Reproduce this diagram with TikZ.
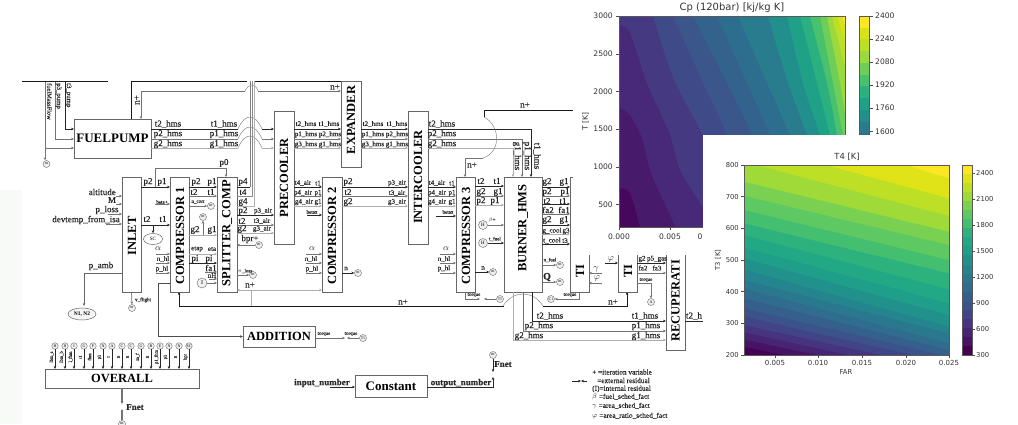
\documentclass[tikz,border=0pt]{standalone}
\usepackage{fontspec}
\usepackage{graphicx}
\setmainfont{Liberation Serif}
\newfontfamily\plotfont{DejaVu Sans}
\newfontfamily\lbf[FakeBold=0.35]{Liberation Serif}
\usetikzlibrary{arrows.meta,shapes.geometric}
\definecolor{c0}{HTML}{45085C}\definecolor{c1}{HTML}{471A6B}\definecolor{c2}{HTML}{482878}
\definecolor{c3}{HTML}{453A82}\definecolor{c4}{HTML}{3F4A89}\definecolor{c5}{HTML}{3A568B}
\definecolor{c6}{HTML}{33638D}\definecolor{c7}{HTML}{2D6E8E}\definecolor{c8}{HTML}{287C8E}
\definecolor{c9}{HTML}{21908D}\definecolor{c10}{HTML}{1FA188}\definecolor{c11}{HTML}{2BB07F}
\definecolor{c12}{HTML}{4AC16D}\definecolor{c13}{HTML}{6ECE58}\definecolor{c14}{HTML}{9BD93C}
\definecolor{c15}{HTML}{BDDF26}\definecolor{c16}{HTML}{D8E219}\definecolor{c17}{HTML}{FDE725}
\definecolor{v0}{HTML}{440154}\definecolor{v1}{HTML}{471365}\definecolor{v2}{HTML}{482475}
\definecolor{v3}{HTML}{463480}\definecolor{v4}{HTML}{414487}\definecolor{v5}{HTML}{3B528B}
\definecolor{v6}{HTML}{355F8D}\definecolor{v7}{HTML}{2F6C8E}\definecolor{v8}{HTML}{2A788E}
\definecolor{v9}{HTML}{25858E}\definecolor{v10}{HTML}{21918C}\definecolor{v11}{HTML}{1F9E89}
\definecolor{v12}{HTML}{22A884}\definecolor{v13}{HTML}{2DB27D}\definecolor{v14}{HTML}{44BF70}
\definecolor{v15}{HTML}{5EC962}\definecolor{v16}{HTML}{7AD151}\definecolor{v17}{HTML}{A0DA39}
\definecolor{v18}{HTML}{BDDF26}\definecolor{v19}{HTML}{DFE318}\definecolor{v20}{HTML}{FDE725}
\tikzset{
  >={Stealth[length=3pt,width=2.6pt]},
  bxs/.style={draw=black!60,line width=.8pt,fill=white,inner sep=0pt,outer sep=0pt,font=\bfseries\fontsize{12.5}{13}\selectfont},
  vls/.style={rotate=90,inner sep=0pt,font=\bfseries\fontsize{12.5}{13}\selectfont},
  lbs/.style={inner sep=0pt,text=black!85,font=\fontsize{9}{9}\selectfont,execute at begin node=\lbf},
  sm/.style={font=\fontsize{7}{7}\selectfont},
  ti/.style={font=\fontsize{5}{5}\selectfont},
  tw/.style={draw=black!85,line width=.7pt,->},
  pw/.style={draw=black!55,line width=.7pt,->},
  gw/.style={draw=black!32,line width=.8pt,->},
  arcs/.style={draw=black!50,line width=.45pt},
  ccs/.style={circle,draw=black!60,line width=.4pt,fill=black!6,inner sep=0pt,minimum size=7pt,font=\fontsize{4}{4}\selectfont},
  pl/.style={inner sep=0pt,text=black!80,font=\plotfont\fontsize{7.6}{8}\selectfont},
  tick/.style={draw=black!70,line width=.5pt}
}
\newcounter{nm}
\newcommand\lb[4][]{\stepcounter{nm}\node[lbs,#1] (t\thenm) at (#2,#3) {#4};}
\newcommand\vl[4][]{\stepcounter{nm}\node[vls,#1] (v\thenm) at (#2,#3) {#4};}
\newcommand\pt[4][]{\stepcounter{nm}\node[pl,#1] (p\thenm) at (#2,#3) {#4};}
\newcommand\cc[5][]{\node[ccs,#1] (#2) at (#3,#4) {#5};}
\newcommand\bx[7][]{\pgfmathsetmacro\wdt{#5-#3}\pgfmathsetmacro\hgt{#6-#4}%
  \node[bxs,minimum width=\wdt pt,minimum height=\hgt pt,#1] (#2) at ({(#3+#5)/2},{(#4+#6)/2}) {#7};}
\newcommand\hw[4][tw]{\draw[#1] (#2.east |- 0,#4) -- (#3.west |- 0,#4);}
\begin{document}
\begin{tikzpicture}[x=1pt,y=-1pt]
\useasboundingbox (0,0) rectangle (1018,424);
\fill[white] (0,0) rectangle (1018,424);
\fill[green!30!black!3] (0,190) rectangle (22,424);
% ---------- boxes
\bx{fuelpump}{74}{119}{151}{158}{\fontsize{13}{13}\selectfont FUELPUMP}
\bx{inlet}{122}{177}{141}{292}{}
\bx{compa}{170}{177}{189}{292}{}
\bx{splitter}{217}{177}{237}{292}{}
\bx{precooler}{274}{111}{294}{244}{}
\bx{expander}{341}{81}{361}{167}{}
\bx{compb}{322}{177}{342}{292}{}
\bx{intercooler}{408}{111}{428}{244}{}
\bx{compc}{456}{177}{475}{292}{}
\bx{burner}{504}{177}{542}{292}{}
\bx{turba}{570}{177}{589}{292}{}
\bx{turbb}{618}{200}{637}{292}{}
\bx{recup}{666}{200}{685}{350}{}
\bx{addition}{243}{326}{315}{347}{ADDITION}
\bx{constant}{355}{375}{427}{397}{\fontsize{13}{13}\selectfont Constant}
\bx{overall}{45}{369}{199}{388}{OVERALL}
\vl{132}{236}{INLET}
\vl{180}{236}{COMPRESSOR 1}
\vl{227}{233}{SPLITTER\_COMP}
\vl{284}{178}{PRECOOLER}
\vl{351}{120}{EXPANDER}
\vl{332}{236}{COMPRESSOR 2}
\vl{418}{177}{INTERCOOLER}
\vl{466}{236}{COMPRESSOR 3}
\vl{523}{228}{BURNER\_HMS}
\vl[anchor=west]{580}{278}{TI}
\vl[anchor=west]{628}{278}{TI}
\vl[anchor=west]{675.5}{342}{RECUPERATI}
% ---------- fuel pump
\coordinate (fa) at (65,81);\coordinate (fb) at (55,81);\coordinate (fc) at (45,81);
\draw[tw] (fa) |- (fuelpump.west |- 0,129);
\draw[pw] (fb) |- (fuelpump.west |- 0,139);
\draw[pw] (fc) |- (fuelpump.west |- 0,148);
\cc{fres}{46.5}{164}{m}
\draw[pw] (45,148) -- (fres.north -| 45,0);
\lb[rotate=-90,anchor=west,font=\fontsize{6.4}{7}\selectfont]{49.5}{83}{fuelMassFlow}
\lb[rotate=-90,anchor=west,font=\fontsize{6.8}{7}\selectfont]{58.5}{83}{p3\_pump}
\lb[rotate=-90,anchor=west,font=\fontsize{6.8}{7}\selectfont]{68.5}{83}{t3\_pump}
\draw[line width=.8pt,draw=black!90] (22,81) -- (108,81);
\draw[line width=.8pt,draw=black!90] (fuelpump.north -| 131,0) -- (131,81) -- (247,81);
\draw[line width=.8pt,draw=black!90] (255,81) -- (expander.north west);
\lb[rotate=90]{137}{100}{n+}
\draw[pw] (245,91) -- (141,91) -- (fuelpump.north -| 141,0);
\draw[arcs] (245,91) .. controls (248,84) and (255,82) .. (258,91);
\draw[pw] (258,91) -- (expander.west |- 0,91);
\lb{335}{87}{n+}
% ---------- fuelpump to precooler
\draw[tw,-] (fuelpump.east |- 0,129) -- (238,129);
\draw[pw,-] (fuelpump.east |- 0,139) -- (238,139);
\draw[gw,-] (fuelpump.east |- 0,148) -- (238,148);
\draw[arcs] (238,129) .. controls (245,113) and (255,113) .. (262,129);
\draw[arcs] (238,139) .. controls (245,123) and (255,123) .. (262,139);
\draw[arcs] (238,148) .. controls (245,132) and (255,132) .. (262,148);
\draw[tw] (262,129) -- (precooler.west |- 0,129);
\draw[pw] (262,139) -- (precooler.west |- 0,139);
\draw[gw] (262,148) -- (precooler.west |- 0,148);
\lb{168}{124}{t2\_hms}\lb{224}{124}{t1\_hms}
\lb{168}{134}{p2\_hms}\lb{224}{134}{p1\_hms}
\lb{168}{144}{g2\_hms}\lb{224}{144}{g1\_hms}
% ---------- splitter verticals
\draw[tw,-] (splitter.east |- 0,187) -- (250,187);
\draw[draw=black!50,line width=.8pt] (250,187) -- (250,81);
\draw[draw=black!45,line width=.8pt] (splitter.east |- 0,196) -- (252,196) -- (252,81);
\draw[draw=black!30,line width=.9pt] (splitter.east |- 0,206) -- (254,206) -- (254,81);
\lb{243}{182}{p4}\lb{243}{192}{t4}\lb{243}{202}{g4}
% ---------- precooler / expander / intercooler
\hw[tw]{precooler}{expander}{129}\hw[pw]{precooler}{expander}{139}\hw[gw]{precooler}{expander}{148}
\hw[tw]{expander}{intercooler}{129}\hw[pw]{expander}{intercooler}{139}\hw[gw]{expander}{intercooler}{148}
\lb[sm]{306}{124}{t2\_hms}\lb[sm]{329}{124}{t1\_hms}
\lb[sm]{306}{134.5}{p1\_hms}\lb[sm]{330}{134.5}{p2\_hms}
\lb[sm]{306}{144.5}{g3\_hms}\lb[sm]{330}{144.5}{g1\_hms}
\lb[sm]{373}{124}{t2\_hms}\lb[sm]{397}{124}{t1\_hms}
\lb[sm]{373}{134.5}{p1\_hms}\lb[sm]{397}{134.5}{p2\_hms}
\lb[sm]{373}{144.5}{g3\_hms}\lb[sm]{397}{144.5}{g1\_hms}
\draw[tw] (intercooler.east |- 0,129) -| (burner.north -| 531,0);
\draw[pw] (intercooler.east |- 0,139) -| (burner.north -| 522,0);
\draw[gw] (intercooler.east |- 0,148) -| (burner.north -| 513,0);
\lb{442}{124}{t2\_hms}\lb{442}{134}{p2\_hms}\lb{442}{144}{g2\_hms}
\lb[rotate=-90]{517}{156}{g1\_hms}\lb[rotate=-90]{527}{156}{p1\_hms}\lb[rotate=-90]{537}{156}{t1\_hms}
\coordinate (nend) at (573,110);
\draw[line width=.8pt,draw=black!90] (nend) -- (484,110) -- (484,117);
\draw[arcs] (484,117) .. controls (500,125) and (502,152) .. (483,158);
\draw[pw] (483,158) -- (465,158) -- (compc.north -| 465,0);
\lb{525}{105}{n+}\lb{472}{165}{n+}
% ---------- inlet
\foreach \yy/\sx in {196/116,204/116,214/108,224/106}{\draw[pw] (\sx,\yy) -- (inlet.west |- 0,\yy);}
\lb[anchor=east]{116}{192}{altitude}\lb{112}{200}{M}\lb{107}{210}{p\_loss}\lb[anchor=east]{120}{220}{devtemp\_from\_isa}
\hw[tw]{inlet}{compa}{187}
\lb{148}{182}{p2}\lb{162}{182}{p1}
\draw[pw] (155,187) -- (155,168) -| (splitter.north -| 226,0);
\lb{224}{163}{p0}
\hw[tw]{inlet}{compa}{225}
\lb{147}{219}{t2}\lb{163}{219}{t1}
\node[ellipse,draw=black!60,line width=.5pt,fill=white,inner sep=0pt,minimum width=19pt,minimum height=11pt,font=\fontsize{5}{5}\selectfont] (sc) at (153,239) {SC};
\draw[tw] (153,225) -- (sc.north);
\draw[pw] (155,204) -- (compa.west |- 0,204);\lb[ti]{162}{202}{beta+}
\draw[pw] (156,254) -- (compa.west |- 0,254);\lb{158}{249}{$\alpha$}
\draw[pw] (156,263) -- (compa.west |- 0,263);\lb[sm]{163}{259}{n\_hl}
\draw[pw] (156,273) -- (compa.west |- 0,273);\lb[sm]{162}{269}{p\_hl}
\coordinate (amb) at (84,273);
\draw[tw,draw=black!60] (inlet.west |- 0,273) -- (amb) -- (84,306);
\lb{101}{266}{p\_amb}
\node[ellipse,draw=black!60,line width=.5pt,fill=black!4,inner sep=0pt,minimum width=28pt,minimum height=12pt,font=\bfseries\fontsize{5.5}{6}\selectfont] (nn) at (82,314) {N1, N2};
\cc{vf}{132}{308}{m}
\draw[pw] (inlet.south) -- (vf.north);
\lb[ti]{143}{300}{v\_flight}
% ---------- compressor 1 to splitter
\hw[tw]{compa}{splitter}{187}\hw[pw]{compa}{splitter}{196}
\lb{196}{182}{p2}\lb{212}{182}{p1}\lb{194}{192}{t2}\lb{211}{192}{t1}
\cc{ncor}{211}{206}{m}\draw[pw] (compa.east |- 0,206) -- (ncor.west);\lb[ti]{198}{202}{n\_corr}
\cc{gcirc}{203}{217}{m}\draw[pw] (203,235) -- (gcirc.south);
\hw[gw]{compa}{splitter}{235}\lb{195}{230}{g2}\lb{212}{230}{g1}
\hw[gw]{compa}{splitter}{254}\lb[sm]{197}{249}{etap}\lb[sm]{212}{249}{eta}
\hw[tw]{compa}{splitter}{263}\lb{195}{259}{pi}\lb{209}{259}{pi}
\draw[pw] (205,272) -- (splitter.west |- 0,272);\lb{211}{268}{fa1}
\draw[pw] (209,279) -- (splitter.west |- 0,279);\lb[sm]{212}{275.5}{nH}
\cc[minimum size=10pt,font=\fontsize{6}{6}\selectfont]{ione}{202}{283}{I}
\draw[pw] (ione.east) -- (splitter.west |- 0,283);
% ---------- splitter to precooler
\hw[tw]{splitter}{precooler}{215}\hw[pw]{splitter}{precooler}{225}\hw[gw]{splitter}{precooler}{233}
\lb{243}{211}{p2}\lb[sm]{263}{211}{p3\_air}\lb{242}{221}{t2}\lb[sm]{262}{221}{t3\_air}\lb{242}{229}{g2}\lb[sm]{262}{229}{g3\_air}
\cc{bpr}{259}{245}{m}\draw[pw] (bpr.west) -- (splitter.east |- bpr);\lb{250}{239}{bpr+}
\cc{piloss}{253}{275}{m}\draw[pw] (splitter.east |- piloss) -- (piloss.west);\lb[ti]{245}{271}{$\pi$\_loss}
\lb{250}{285}{n+}
\draw[gw,<->] (splitter.east |- 0,290) -- (compb.west |- 0,290);
% ---------- n+ bottom
\draw[gw,-] (251,290) -- (251,306);
\draw[line width=.8pt,draw=black!90,->] (burner.south west |- 0,306) -- (179,306) -- (compa.south -| 179,0);
\draw[arcs] (503,306) .. controls (513,290) and (533,290) .. (543,306);
\draw[line width=.8pt,draw=black!90,->] (543,306) -- (627,306) -- (turbb.south -| 627,0);
\lb{403}{302}{n+}\lb{613}{302}{n+}
% ---------- addition
\draw[tw,draw=black!70] (compa.west |- 0,283) -- (158,283) |- (addition.west);
\cc{tone}{363}{338}{T1}
\draw[pw] (addition.east |- tone) -- (345,338);
\draw[pw] (tone.west) -- (347,338);
\lb[ti]{324}{334}{torque}\lb[ti]{351}{334}{torque}
% ---------- compressor 2
\hw[tw]{precooler}{compb}{187}\hw[pw]{precooler}{compb}{196}\hw[gw]{precooler}{compb}{206}
\lb[sm]{303}{183}{t4\_air}\lb[sm]{318}{183}{t1}\lb[sm]{303}{193}{p4\_air}\lb[sm]{318}{193}{p1}\lb[sm]{304}{202}{g4\_air}\lb[sm]{318}{202}{g1}
\draw[tw] (307,215) -- (compb.west |- 0,215);\lb[ti]{312}{212}{betax}
\draw[pw] (306,254) -- (compb.west |- 0,254);\lb{312}{249}{$\alpha$}
\draw[pw] (306,263) -- (compb.west |- 0,263);\lb[sm]{311}{259}{n\_hl}
\draw[pw] (306,273) -- (compb.west |- 0,273);\lb[sm]{312}{269}{p\_hl}
\cc{nb}{358}{273}{m}\draw[tw] (compb.east |- nb) -- (nb.west);\lb[sm]{346}{268.5}{n}
\hw[tw]{compb}{intercooler}{187}\hw[pw]{compb}{intercooler}{196}\hw[gw]{compb}{intercooler}{206}
\lb{348}{182}{p2}\lb{348}{192}{t2}\lb{348}{202}{g2}
\lb[sm]{397}{183}{p3\_air}\lb[sm]{397}{193}{t3\_air}\lb[sm]{397}{202}{g3\_air}
% ---------- compressor 3
\hw[tw]{intercooler}{compc}{187}\hw[pw]{intercooler}{compc}{196}\hw[gw]{intercooler}{compc}{206}
\lb[sm]{437}{183}{t4\_air}\lb[sm]{452}{183}{t1}\lb[sm]{437}{193}{p4\_air}\lb[sm]{452}{193}{p1}\lb[sm]{437}{202}{g4\_air}\lb[sm]{452}{202}{g1}
\draw[tw] (436,216) -- (compc.west |- 0,216);\lb[ti]{448}{212}{betax}
\draw[pw] (440,254) -- (compc.west |- 0,254);\lb{446}{249}{$\alpha$}
\draw[pw] (440,263) -- (compc.west |- 0,263);\lb[sm]{444}{259}{n\_hl}
\draw[pw] (440,273) -- (compc.west |- 0,273);\lb[sm]{444}{268.5}{p\_hl}
\cc{nc}{493}{272}{m}\draw[tw] (compc.east |- nc) -- (nc.west);\lb[sm]{483}{268}{n}
\hw[tw]{compc}{burner}{186}\hw[pw]{compc}{burner}{196}\hw[gw]{compc}{burner}{205}
\lb{481}{181}{t2}\lb{497}{181}{t1}\lb{481}{192}{g2}\lb{498}{192}{g1}\lb{481}{201}{p2}\lb{495}{201}{p1}
\cc[minimum size=9pt,font=\fontsize{5}{5}\selectfont]{hb}{483}{225}{H}\draw[pw] (hb.east) -- (burner.west |- hb);\lb[ti]{492}{220}{$\beta$+}
\cc[minimum size=9pt,font=\fontsize{5}{5}\selectfont]{hc}{483}{243}{H}\draw[tw] (hc.east) -- (burner.west |- hc);\lb[ti]{495}{239}{t\_fuel}
\cc{tonec}{500}{299}{T1}
\draw[pw] (compc.south -| 465,0) -- (465,299) -- (480,299);
\draw[pw] (tonec.west) -- (484,299);
\lb[ti]{474}{295}{torque}
% ---------- burner bottom
\draw[tw] (burner.south -| 532,0) |- (recup.west |- 0,321);
\draw[pw] (burner.south -| 523,0) |- (recup.west |- 0,331);
\draw[gw] (burner.south -| 513,0) |- (recup.west |- 0,340);
\lb{550}{316}{t2\_hms}\lb{645}{316}{t1\_hms}\lb{539}{326}{p2\_hms}\lb{646}{326}{p1\_hms}\lb{529}{336}{g2\_hms}\lb{646}{336}{g1\_hms}
\coordinate (rcut) at (703,321);
\draw[tw,-] (recup.east |- rcut) -- (rcut);
\lb{694}{316}{t2\_h}
% ---------- burner right
\hw[tw]{burner}{turba}{187}\hw[pw]{burner}{turba}{196}\hw[tw]{burner}{turba}{204}\hw[pw]{burner}{turba}{214}\hw[tw]{burner}{turba}{225}\hw[gw]{burner}{turba}{234}\hw[tw]{burner}{turba}{244}
\lb{547}{182}{g2}\lb{564}{182}{g1}\lb{547}{192}{p2}\lb{565}{192}{p1}\lb{547}{201}{t2}\lb{563}{201}{t1}
\lb{548}{210}{fa2}\lb{564}{210}{fa1}\lb{547}{220}{g2}\lb{564}{220}{g1}
\lb[sm]{552}{231}{g\_cool}\lb[sm]{566}{231}{g3}\lb[sm]{552}{240.5}{t\_cool}\lb[sm]{565}{240.5}{t3}
\cc{nf}{560}{265}{m}\draw[pw] (burner.east |- nf) -- (nf.west);\lb[ti]{550}{260}{n\_fuel}
\cc{qq}{560}{282}{m}\draw[pw] (burner.east |- qq) -- (qq.west);\lb[font=\bfseries\fontsize{10}{10}\selectfont]{547}{277}{Q}
\draw[pw] (602,273) -- (turba.east |- 0,273);\lb{596}{269}{$\gamma$}
\draw[pw] (602,283) -- (turba.east |- 0,283);\lb{597}{278}{$\varphi$}
\draw[tw] (605,263) -- (turbb.west |- 0,263);\lb{611}{259}{$\varphi$}
\cc{cone}{551}{299}{C1}
\draw[pw] (turba.south -| 579,0) -- (579,299) -- (cone.east);
\lb[ti]{570}{295}{torque}
\hw[tw]{turbb}{recup}{263}\hw[pw]{turbb}{recup}{273}
\lb[sm]{642}{259}{g2}\lb[sm]{657}{259}{p5\_gas}\lb[sm]{643}{268}{fa2}\lb[sm]{657}{268}{fa3}
\cc{aa}{651}{302}{A}
\draw[pw] (turbb.east |- 0,283) -- (651,283) -- (aa.north);
\lb[ti]{646}{280}{torque}
% ---------- overall
\foreach \xx/\cl/\tx [count=\i] in {55/H/lbm\_s,65/H/lbm\_b,74/I/l\_fhm,84/G/t1,93/P/fhm,103/N/p1,112/A/t,122/C/n,131/C/n,141/G/m\_f,151/B/n,160/E/p1\_fhm,169/N/p1,179/N/n,189/SC/bpr}{
  \cc[minimum size=6.5pt]{ov\i}{\xx}{346}{\cl}
  \draw[tw,line width=.6pt] (ov\i.south) -- (overall.north -| \xx,0);
  \stepcounter{nm}\node[lbs,rotate=90,font=\fontsize{4.5}{5}\selectfont] (ol\i) at (\xx-3.5,357) {\tx};
}
\cc{ovo}{122}{424}{m}
\draw[draw=black!55,line width=1.2pt,->] (overall.south) -- (122,404);
\draw[draw=black!55,line width=1.2pt,->] (ovo.north) -- (122,409);
\lb[font=\bfseries\fontsize{9}{9}\selectfont]{135}{407}{Fnet}
% ---------- constant
\lb[font=\bfseries\fontsize{9}{9}\selectfont]{322}{383}{input\_number}
\lb[font=\bfseries\fontsize{9}{9}\selectfont]{461}{383}{output\_number}
\coordinate (cin) at (330,387);
\draw[tw] (cin) -- (constant.west |- cin);
\cc{cf}{493}{355}{m}
\draw[tw] (constant.east |- cin) -- (493,387) -- (493,377);
\draw[tw] (cf.south) -- (493,372);
\lb[font=\bfseries\fontsize{9}{9}\selectfont]{503}{364}{Fnet}
% ---------- legend
\coordinate (la) at (572,381);\coordinate (lb) at (581,381);\coordinate (lc) at (587,381);
\draw[tw] (la) -- (lb);\draw[tw] (lc) -- (lb);
\lb[anchor=west,font=\fontsize{7.3}{7}\selectfont]{592}{372}{+ =iteration variable}
\lb[anchor=west,font=\fontsize{7.3}{7}\selectfont]{597}{380.5}{=external residual}
\lb[anchor=west,font=\fontsize{7.3}{7}\selectfont]{592}{389}{(I)=internal residual}
\lb[anchor=west,font=\fontsize{7.3}{7}\selectfont]{592}{397}{$\beta$ =fuel\_sched\_fact}
\lb[anchor=west,font=\fontsize{7.3}{7}\selectfont]{592}{406}{$\gamma$ =area\_sched\_fact}
\lb[anchor=west,font=\fontsize{7.3}{7}\selectfont]{592}{416}{$\varphi$ =area\_ratio\_sched\_fact}
% ---------- Cp plot
\fill[white] (573,0) rectangle (1018,255);
\begin{scope}
\clip (619,16) rectangle (845,227);
\fill[c0] (619,16) rectangle (845,227);
\fill[c1] plot[smooth] coordinates {(610,186)(619,188)(630,193)(640,227)(642,235)} -- (850,235) -- (850,10) -- (610,10) -- cycle;
\fill[c2] plot[smooth] coordinates {(610,104)(619,107)(630,115)(642,138)(650,170)(663,200)(677,230)} -- (850,235) -- (850,10) -- (610,10) -- cycle;
\fill[c3] plot[smooth] coordinates {(610,22)(619,25)(630,33)(647,83)(670,135)(680,170)(700,203)(716,232)} -- (850,235) -- (850,10) -- (610,10) -- cycle;
\fill[c4] plot[smooth] coordinates {(650,8)(653,16)(673,77)(703,135)(720,170)(745,232)} -- (850,235) -- (850,8) -- cycle;
\fill[c5] plot[smooth] coordinates {(671,8)(673,16)(703,83)(727,135)(760,232)} -- (850,235) -- (850,8) -- cycle;
\fill[c6] plot[smooth] coordinates {(691,8)(693,16)(727,83)(752,135)(790,232)} -- (850,235) -- (850,8) -- cycle;
\fill[c7] plot[smooth] coordinates {(715,8)(717,16)(747,83)(770,135)(810,232)} -- (850,235) -- (850,8) -- cycle;
\fill[c8] plot[smooth] coordinates {(736,8)(738,16)(767,83)(790,135)(830,232)} -- (850,235) -- (850,8) -- cycle;
\fill[c9] plot[smooth] coordinates {(766,8)(768,16)(788,83)(807,135)(840,232)} -- (850,235) -- (850,8) -- cycle;
\fill[c10] plot[smooth] coordinates {(785,8)(787,16)(803,83)(820,135)(850,232)} -- (850,235) -- (850,8) -- cycle;
\fill[c11] plot[smooth] coordinates {(798,8)(800,16)(817,83)(830,135)(852,232)} -- (855,235) -- (855,8) -- cycle;
\fill[c12] plot[smooth] coordinates {(808,8)(810,16)(827,83)(837,135)} -- (855,140) -- (855,8) -- cycle;
\fill[c13] plot[smooth] coordinates {(818,8)(820,16)(833,83)(843,135)} -- (855,140) -- (855,8) -- cycle;
\fill[c14] plot[smooth] coordinates {(826,8)(827,16)(840,83)(846,120)} -- (855,120) -- (855,8) -- cycle;
\fill[c15] plot[smooth] coordinates {(831,8)(832,16)(845,67)} -- (855,67) -- (855,8) -- cycle;
\fill[c16] plot[smooth] coordinates {(836,8)(837,16)(845,40)} -- (855,40) -- (855,8) -- cycle;
\fill[c17] (842,8) -- (842,16) -- (845,25) -- (855,25) -- (855,8) -- cycle;
\end{scope}
\node[draw=black!65,line width=.5pt,minimum width=226pt,minimum height=211pt,inner sep=0pt,outer sep=0pt] (axcp) at (732,121.5) {};
\foreach \yy/\ll in {16/3000,54/2500,91.6/2000,129/1500,167/1000,204.5/500}{
  \draw[tick] (axcp.west |- 0,\yy) -- ++(-3,0);
  \stepcounter{nm}\node[pl,anchor=east] (cy\ll) at (613,\yy) {\ll};
}
\foreach \xx/\ll in {619/0.000,670/0.005}{
  \draw[tick] (\xx,227) -- (\xx,230);
  \stepcounter{nm}\node[pl] (cx\ll) at (\xx,236.5) {\ll};
}
\pt{700}{236.5}{0}
\pt[rotate=90]{585.5}{122}{T [K]}
\pt[font=\plotfont\fontsize{10}{10}\selectfont]{732}{8}{Cp (120bar) [kj/kg K]}
\foreach \k in {0,...,17}{
  \fill[c\k] (859.5,{227-(\k+1)*11.72}) rectangle (869.5,{227-\k*11.72});
}
\node[draw=black!65,line width=.5pt,minimum width=10pt,minimum height=211pt,inner sep=0pt,outer sep=0pt] (cbcp) at (864.5,121.5) {};
\foreach \yy/\ll in {16/2400,39/2240,62/2080,85/1920,108/1760,131.5/1600}{
  \draw[tick] (cbcp.east |- 0,\yy) -- ++(3,0);
  \stepcounter{nm}\node[pl,anchor=west] (cb\ll) at (875,\yy) {\ll};
}
% ---------- T4 plot
\fill[white] (703,135) rectangle (1018,424);
\begin{scope}
\clip (744,165) rectangle (949,355);
\fill[v0] (744,165) rectangle (949,355);
\foreach \L/\R/\c in {650/780/v1,628/760/v2,607/740/v3,585/720/v4,560/700/v5,535/680/v6,505/660/v7,475/640/v8,450/610/v9,418/590/v10,385/555/v11,352/520/v12,315/478/v13,280/430/v14,240/390/v15,197/345/v16,155/305/v17,95/258/v18,38/205/v19,-46/145/v20}{
  \fill[\c] (744,{130+\L/3}) -- (949,{130+\R/3}) -- (949,90) -- (744,90) -- cycle;
}
\end{scope}
\node[draw=black!65,line width=.5pt,minimum width=205pt,minimum height=190pt,inner sep=0pt,outer sep=0pt] (axt) at (846.5,260) {};
\foreach \yy/\ll in {165/800,196.7/700,228.3/600,260/500,291.7/400,323.3/300,355/200}{
  \draw[tick] (axt.west |- 0,\yy) -- ++(-3,0);
  \stepcounter{nm}\node[pl,anchor=east,font=\plotfont\fontsize{6.8}{7}\selectfont] (ty\ll) at (739,\yy) {\ll};
}
\foreach \xx/\ll in {775/0.005,818/0.010,862/0.015,906/0.020,949/0.025}{
  \draw[tick] (\xx,355) -- (\xx,358);
  \stepcounter{nm}\node[pl,font=\plotfont\fontsize{7}{7}\selectfont] (tx\ll) at (\xx,363) {\ll};
}
\pt[font=\plotfont\fontsize{6.8}{7}\selectfont]{846}{372}{FAR}
\pt[rotate=90,font=\plotfont\fontsize{6.8}{7}\selectfont]{718}{260}{T3 [K]}
\pt[font=\plotfont\fontsize{8.4}{9}\selectfont]{847}{157}{T4 [K]}
\foreach \k in {0,...,20}{
  \fill[v\k] (962,{355-(\k+1)*9.048}) rectangle (972,{355-\k*9.048});
}
\node[draw=black!65,line width=.5pt,minimum width=10pt,minimum height=190pt,inner sep=0pt,outer sep=0pt] (cbt) at (967,260) {};
\foreach \yy/\ll in {173/2400,199/2100,225.5/1800,251/1500,277/1200,303/900,329/600,355/300}{
  \draw[tick] (cbt.east |- 0,\yy) -- ++(3,0);
  \stepcounter{nm}\node[pl,anchor=west,font=\plotfont\fontsize{6.8}{7}\selectfont] (tb\ll) at (976,\yy) {\ll};
}
\end{tikzpicture}
\end{document}
